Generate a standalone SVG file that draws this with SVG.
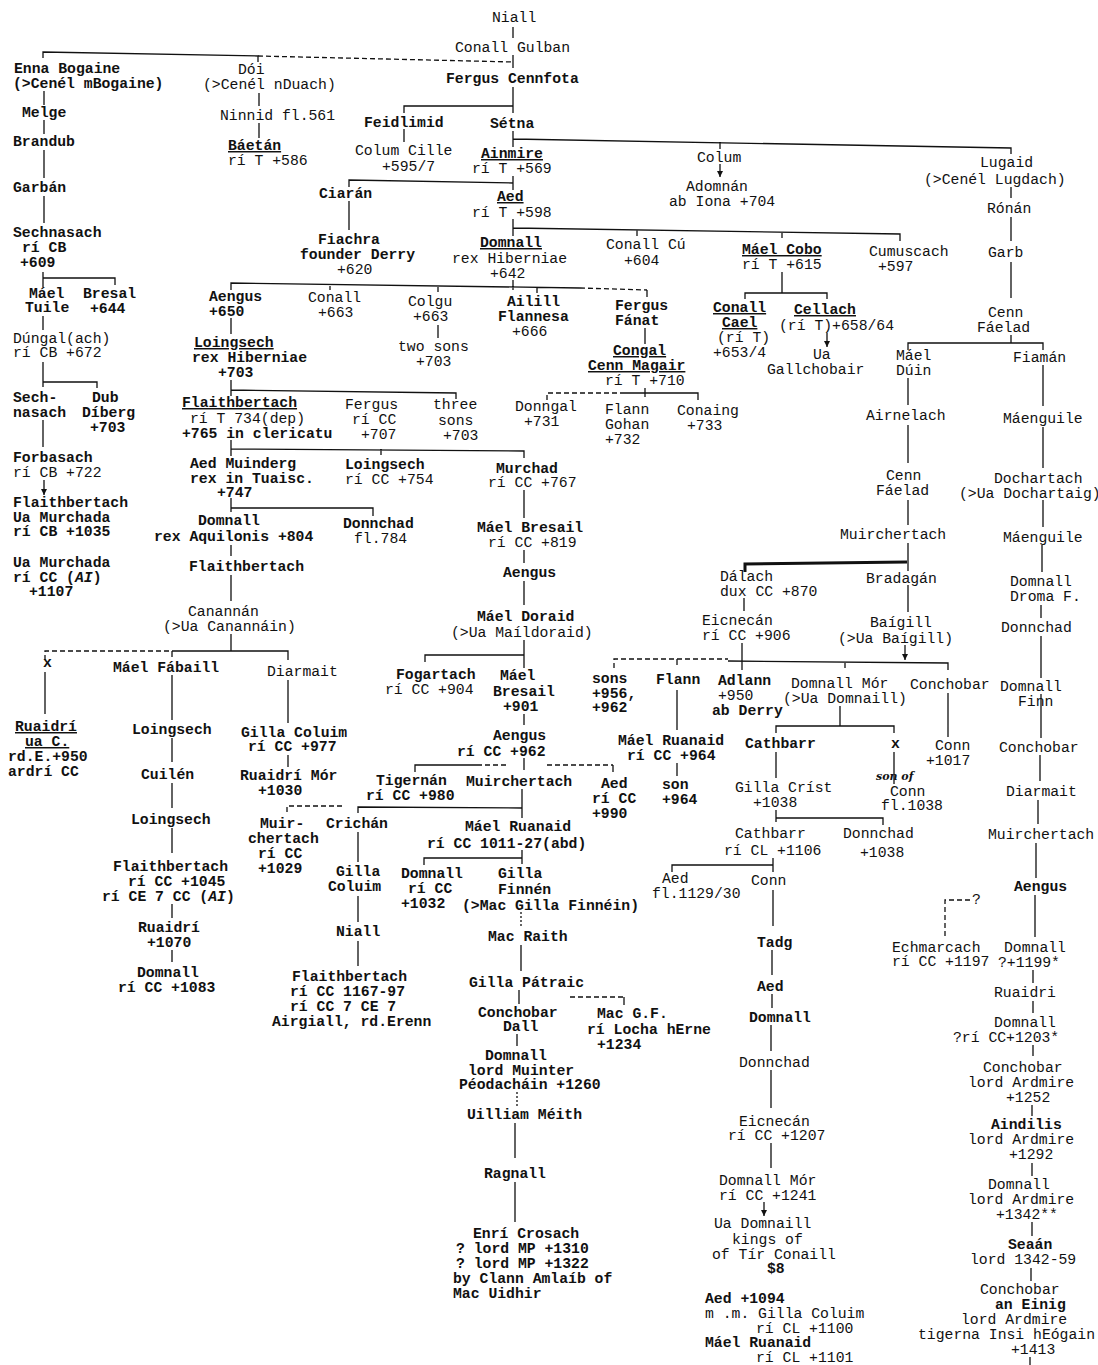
<svg xmlns="http://www.w3.org/2000/svg" width="1098" height="1365" viewBox="0 0 1098 1365">
<style>
text{font-family:"Liberation Mono","DejaVu Sans Mono",monospace;font-size:14.75px;fill:#111}
.b{font-weight:bold}
.u{text-decoration:underline}
.i{font-style:italic}
.hand{font-family:"DejaVu Serif",serif;font-style:italic;font-weight:bold;font-size:11px}
.c{fill:none;stroke:#111;stroke-width:1.3}
.d{stroke-dasharray:5 3}
.dot{stroke-dasharray:2 2}
.thick{stroke-width:3}
.a{marker-end:url(#ah)}
</style>
<defs>
<marker id="ah" viewBox="0 0 6 6" refX="6" refY="3" markerWidth="6" markerHeight="6" markerUnits="userSpaceOnUse" orient="auto">
<path d="M0 0 L6 3 L0 6 z" fill="#111"/>
</marker>
</defs>
<rect width="1098" height="1365" fill="#fff"/>

<!-- lines of descent -->
<g id="connectors">
<path class="c" d="M513 27 V38 M513 55 V68"/>
<path class="c" d="M43 58 V52 L258 56 V62"/>
<path class="c d" d="M258 56 L513 62"/>
<path class="c" d="M44 91 V105 M44 120 V134 M44 150 V178 M44 196 V223"/>
<path class="c" d="M259 93 V106 M259 123 V138"/>
<path class="c" d="M513 87 V113 M513 106 H404 V113 M404 129 V142"/>
<path class="c" d="M513 131 V147 M513 139 L1011 148 V154 M720 142 V149"/>
<path class="c a" d="M720 164 V177"/>
<path class="c" d="M513 176 V190 M349 187 V180 L513 183 M349 201 V230"/>
<path class="c" d="M513 219 V236 M513 228 L900 234 V241 M637 230 V236 M782 232 V238"/>
<path class="c" d="M1011 187 V198 M1011 217 V241 M1011 262 V298 M1011 335 V343 M908 350 V343 L1043 343 V350"/>
<path class="c" d="M513 280 V290 M231 290 V283 L580 288 M330 284 V290 M438 286 V292 M537 287 V293"/>
<path class="c d" d="M580 288 L647 290"/>
<path class="c" d="M647 290 V297"/>
<path class="c" d="M782 272 V293 M745 299 V293 H827 V299"/>
<path class="c a" d="M827 333 V347"/>
<path class="c" d="M645 328 V344 M438 325 V338"/>
<path class="c d" d="M547 400 V393 H620"/>
<path class="c" d="M645 388 V397 M620 393 H698 V400"/>
<path class="c" d="M43 272 V287 M43 278 H115 V285 M43 316 V330 M43 362 V387 M43 382 H97 V388 M43 420 V447"/>
<path class="c a" d="M44 480 V495"/>
<path class="c" d="M231 318 V334 M231 380 V396 M231 390 L456 393 V399"/>
<path class="c" d="M231 440 V456 M231 449 L524 451 V458 M381 449 V455"/>
<path class="c" d="M524 490 V518 M524 550 V563 M524 581 V605 M524 640 V668 M524 655 H425 V662"/>
<path class="c" d="M231 498 V512 M231 508 H373 V516 M231 545 V556 M231 575 V601 M231 634 V651"/>
<path class="c d" d="M45 660 V651 H172"/>
<path class="c" d="M172 651 H288 V660 M172 651 V657"/>
<path class="c" d="M45 672 V714 M172 675 V720 M172 738 V762 M172 783 V808 M172 828 V853 M172 904 V918 M172 950 V962"/>
<path class="c" d="M288 680 V723 M288 755 V767"/>
<path class="c d" d="M287 812 V806 H345"/>
<path class="c" d="M358 813 V807 L522 808 M522 789 V818"/>
<path class="c" d="M358 832 V862 M358 896 V922 M358 941 V966"/>
<path class="c" d="M524 714 V725 M524 758 V770 M415 772 V765 H477 M613 765 V772"/>
<path class="c d" d="M477 765 H508 M547 765 H613"/>
<path class="c" d="M522 850 V864 M522 858 H424 V865"/>
<path class="c dot" d="M521 912 V926"/>
<path class="c" d="M521 945 V971 M519 990 V1004"/>
<path class="c d" d="M570 997 H624"/>
<path class="c" d="M624 997 V1005 M517 1034 V1046"/>
<path class="c dot" d="M517 1092 V1106"/>
<path class="c" d="M515 1123 V1158 M515 1182 V1222"/>
<path class="c thick" d="M745 572 V564 L907 562"/>
<path class="c" d="M908 378 V405 M908 425 V463 M908 500 V525 M908 543 V571 M908 585 V612"/>
<path class="c a" d="M905 645 V660"/>
<path class="c" d="M744 598 V611 M742 643 V670"/>
<path class="c d" d="M614 668 V659 H728"/>
<path class="c" d="M728 661 L948 663 V670 M677 659 V665 M845 662 V668"/>
<path class="c" d="M677 690 V730 M677 763 V776"/>
<path class="c" d="M840 706 V726 M776 733 V726 H894 V733 M948 693 V737"/>
<path class="c" d="M776 752 V778 M776 810 V822 M776 818 H883 V825 M894 752 V784"/>
<path class="c" d="M773 858 V872 M672 872 V865 H773"/>
<path class="c" d="M773 890 V926 M772 950 V975 M772 994 V1008 M771 1025 V1051 M771 1070 V1108 M771 1143 V1168"/>
<path class="c a" d="M764 1202 V1216"/>
<path class="c" d="M1043 365 V406 M1043 427 V468 M1043 500 V527 M1042 545 V572 M1041 605 V618 M1041 636 V678 M1041 694 V738 M1040 755 V781 M1038 800 V824 M1036 843 V878 M1035 895 V937 M1033 970 V983 M1033 1001 V1013 M1033 1045 V1056 M1032 1105 V1116 M1032 1163 V1176 M1032 1222 V1236 M1031 1268 V1281 M1030 1357 V1365"/>
<path class="c d" d="M945 936 V900 H970"/>
</g>

<g id="n-niall"><text x="492" y="22">Niall</text></g>
<g id="n-conall-gulban"><text x="455" y="52">Conall Gulban</text></g>
<g id="n-enna"><text class="b" x="14" y="73">Enna Bogaine</text><text class="b" x="13" y="88">(&gt;Cenél mBogaine)</text></g>
<g id="n-doi"><text x="238" y="74">Dói</text><text x="203" y="89">(&gt;Cenél nDuach)</text></g>
<g id="n-fergus-cennfota"><text class="b" x="446" y="83">Fergus Cennfota</text></g>
<g id="n-melge"><text class="b" x="22" y="117">Melge</text></g>
<g id="n-ninnid"><text x="220" y="120">Ninnid fl.561</text></g>
<g id="n-feidlimid"><text class="b" x="364" y="127">Feidlimid</text></g>
<g id="n-setna"><text class="b" x="490" y="128">Sétna</text></g>
<g id="n-brandub"><text class="b" x="13" y="146">Brandub</text></g>
<g id="n-baetan"><text class="b u" x="228" y="150">Báetán</text><text x="228" y="165">rí T +586</text></g>
<g id="n-colum-cille"><text x="355" y="155">Colum Cille</text><text x="382" y="171">+595/7</text></g>
<g id="n-ainmire"><text class="b u" x="481" y="158">Ainmire</text><text x="472" y="173">rí T +569</text></g>
<g id="n-colum"><text x="697" y="162">Colum</text></g>
<g id="n-lugaid"><text x="980" y="167">Lugaid</text><text x="924" y="184">(&gt;Cenél Lugdach)</text></g>
<g id="n-adomnan"><text x="686" y="191">Adomnán</text><text x="669" y="206">ab Iona +704</text></g>
<g id="n-garban"><text class="b" x="13" y="192">Garbán</text></g>
<g id="n-ciaran"><text class="b" x="319" y="198">Ciarán</text></g>
<g id="n-aed"><text class="b u" x="497" y="201">Aed</text><text x="472" y="217">rí T +598</text></g>
<g id="n-ronan"><text x="987" y="213">Rónán</text></g>
<g id="n-sechnasach"><text class="b" x="13" y="237">Sechnasach</text><text class="b" x="22" y="252">rí CB</text><text class="b" x="20" y="267">+609</text></g>
<g id="n-fiachra"><text class="b" x="318" y="244">Fiachra</text><text class="b" x="300" y="259">founder Derry</text><text x="337" y="274">+620</text></g>
<g id="n-domnall-642"><text class="b u" x="480" y="247">Domnall</text><text x="452" y="263">rex Hiberniae</text><text x="490" y="278">+642</text></g>
<g id="n-conall-cu"><text x="606" y="249">Conall Cú</text><text x="624" y="265">+604</text></g>
<g id="n-mael-cobo"><text class="b u" x="742" y="254">Máel Cobo</text><text x="742" y="269">rí T +615</text></g>
<g id="n-cumuscach"><text x="869" y="256">Cumuscach</text><text x="878" y="271">+597</text></g>
<g id="n-garb"><text x="988" y="257">Garb</text></g>
<g id="n-mael-tuile"><text class="b" x="29" y="298">Máel</text><text class="b" x="25" y="312">Tuile</text></g>
<g id="n-bresal"><text class="b" x="83" y="298">Bresal</text><text class="b" x="90" y="313">+644</text></g>
<g id="n-aengus-650"><text class="b" x="209" y="301">Aengus</text><text class="b" x="209" y="316">+650</text></g>
<g id="n-conall-663"><text x="308" y="302">Conall</text><text x="318" y="317">+663</text></g>
<g id="n-colgu"><text x="408" y="306">Colgu</text><text x="413" y="321">+663</text></g>
<g id="n-ailill"><text class="b" x="507" y="306">Ailill</text><text class="b" x="498" y="321">Flannesa</text><text x="512" y="336">+666</text></g>
<g id="n-fergus-fanat"><text class="b" x="615" y="310">Fergus</text><text class="b" x="615" y="325">Fánat</text></g>
<g id="n-conall-cael"><text class="b u" x="713" y="312">Conall</text><text class="b u" x="722" y="327">Cael</text><text x="717" y="342">(rí T)</text><text x="713" y="357">+653/4</text></g>
<g id="n-cellach"><text class="b u" x="794" y="314">Cellach</text><text x="779" y="330">(rí T)+658/64</text></g>
<g id="n-cenn-faelad-1"><text x="988" y="317">Cenn</text><text x="977" y="332">Fáelad</text></g>
<g id="n-dungal"><text x="13" y="343">Dúngal(ach)</text><text x="13" y="357">rí CB +672</text></g>
<g id="n-loingsech-703"><text class="b u" x="194" y="347">Loingsech</text><text class="b" x="192" y="362">rex Hiberniae</text><text class="b" x="218" y="377">+703</text></g>
<g id="n-two-sons"><text x="398" y="351">two sons</text><text x="416" y="366">+703</text></g>
<g id="n-congal"><text class="b u" x="613" y="355">Congal</text><text class="b u" x="588" y="370">Cenn Magair</text><text x="605" y="385">rí T +710</text></g>
<g id="n-ua-gallchobair"><text x="813" y="359">Ua</text><text x="767" y="374">Gallchobair</text></g>
<g id="n-mael-duin"><text x="896" y="360">Máel</text><text x="896" y="375">Dúin</text></g>
<g id="n-fiaman"><text x="1013" y="362">Fiamán</text></g>
<g id="n-sech-nasach"><text class="b" x="13" y="402">Sech-</text><text class="b" x="13" y="417">nasach</text></g>
<g id="n-dub-diberg"><text class="b" x="92" y="402">Dub</text><text class="b" x="82" y="417">Díberg</text><text class="b" x="90" y="432">+703</text></g>
<g id="n-flaithbertach-765"><text class="b u" x="182" y="407">Flaithbertach</text><text x="190" y="423">rí T 734(dep)</text><text class="b" x="182" y="438">+765 in clericatu</text></g>
<g id="n-fergus-707"><text x="345" y="409">Fergus</text><text x="352" y="424">rí CC</text><text x="361" y="439">+707</text></g>
<g id="n-three-sons"><text x="433" y="409">three</text><text x="438" y="425">sons</text><text x="443" y="440">+703</text></g>
<g id="n-donngal"><text x="515" y="411">Donngal</text><text x="524" y="426">+731</text></g>
<g id="n-flann-gohan"><text x="605" y="414">Flann</text><text x="605" y="429">Gohan</text><text x="605" y="444">+732</text></g>
<g id="n-conaing"><text x="677" y="415">Conaing</text><text x="687" y="430">+733</text></g>
<g id="n-airnelach"><text x="866" y="420">Airnelach</text></g>
<g id="n-maenguile-1"><text x="1003" y="423">Máenguile</text></g>
<g id="n-forbasach"><text class="b" x="13" y="462">Forbasach</text><text x="13" y="477">rí CB +722</text></g>
<g id="n-aed-muinderg"><text class="b" x="190" y="468">Aed Muinderg</text><text class="b" x="190" y="483">rex in Tuaisc.</text><text class="b" x="217" y="497">+747</text></g>
<g id="n-loingsech-754"><text class="b" x="345" y="469">Loingsech</text><text x="345" y="484">rí CC +754</text></g>
<g id="n-murchad"><text class="b" x="496" y="473">Murchad</text><text x="488" y="487">rí CC +767</text></g>
<g id="n-cenn-faelad-2"><text x="886" y="480">Cenn</text><text x="876" y="495">Fáelad</text></g>
<g id="n-dochartach"><text x="994" y="483">Dochartach</text><text x="959" y="498">(&gt;Ua Dochartaig)</text></g>
<g id="n-flaithbertach-1035"><text class="b" x="13" y="507">Flaithbertach</text><text class="b" x="13" y="522">Ua Murchada</text><text class="b" x="13" y="536">rí CB +1035</text></g>
<g id="n-domnall-804"><text class="b" x="198" y="525">Domnall</text><text class="b" x="154" y="541">rex Aquilonis +804</text></g>
<g id="n-donnchad-784"><text class="b" x="343" y="528">Donnchad</text><text x="354" y="543">fl.784</text></g>
<g id="n-mael-bresail-819"><text class="b" x="477" y="532">Máel Bresail</text><text x="488" y="547">rí CC +819</text></g>
<g id="n-muirchertach-1"><text x="840" y="539">Muirchertach</text></g>
<g id="n-maenguile-2"><text x="1003" y="542">Máenguile</text></g>
<g id="n-ua-murchada"><text class="b" x="13" y="567">Ua Murchada</text><text class="b" x="13" y="582">rí CC (<tspan class="i">AI</tspan>)</text><text class="b" x="29" y="596">+1107</text></g>
<g id="n-flaithbertach-2"><text class="b" x="189" y="571">Flaithbertach</text></g>
<g id="n-aengus-3"><text class="b" x="503" y="577">Aengus</text></g>
<g id="n-dalach"><text x="720" y="581">Dálach</text><text x="720" y="596">dux CC +870</text></g>
<g id="n-bradagan"><text x="866" y="583">Bradagán</text></g>
<g id="n-domnall-droma"><text x="1010" y="586">Domnall</text><text x="1010" y="601">Droma F.</text></g>
<g id="n-canannan"><text x="188" y="616">Canannán</text><text x="163" y="631">(&gt;Ua Canannáin)</text></g>
<g id="n-mael-doraid"><text class="b" x="477" y="621">Máel Doraid</text><text x="451" y="637">(&gt;Ua Maíldoraid)</text></g>
<g id="n-eicnecan-906"><text x="702" y="625">Eicnecán</text><text x="702" y="640">rí CC +906</text></g>
<g id="n-baigill"><text x="870" y="627">Baígill</text><text x="838" y="643">(&gt;Ua Baígill)</text></g>
<g id="n-donnchad-r"><text x="1001" y="632">Donnchad</text></g>
<g id="n-x-1"><text class="b" x="43" y="667">x</text></g>
<g id="n-mael-fabaill"><text class="b" x="113" y="672">Máel Fábaill</text></g>
<g id="n-diarmait-1"><text x="267" y="676">Diarmait</text></g>
<g id="n-fogartach"><text class="b" x="396" y="679">Fogartach</text><text x="385" y="694">rí CC +904</text></g>
<g id="n-mael-bresail-901"><text class="b" x="500" y="680">Máel</text><text class="b" x="493" y="696">Bresail</text><text class="b" x="503" y="711">+901</text></g>
<g id="n-sons"><text class="b" x="592" y="683">sons</text><text class="b" x="592" y="698">+956,</text><text class="b" x="592" y="712">+962</text></g>
<g id="n-flann"><text class="b" x="656" y="684">Flann</text></g>
<g id="n-adlann"><text class="b" x="718" y="685">Adlann</text><text x="718" y="700">+950</text><text class="b" x="712" y="715">ab Derry</text></g>
<g id="n-domnall-mor-1"><text x="791" y="688">Domnall Mór</text><text x="783" y="703">(&gt;Ua Domnaill)</text></g>
<g id="n-conchobar-1"><text x="910" y="689">Conchobar</text></g>
<g id="n-domnall-finn"><text x="1000" y="691">Domnall</text><text x="1018" y="706">Finn</text></g>
<g id="n-ruaidri-950"><text class="b u" x="15" y="731">Ruaidrí</text><text class="b u" x="25" y="746">ua C.</text><text class="b" x="8" y="761">rd.E.+950</text><text class="b" x="8" y="776">ardrí CC</text></g>
<g id="n-loingsech-a"><text class="b" x="132" y="734">Loingsech</text></g>
<g id="n-gilla-coluim-977"><text class="b" x="241" y="737">Gilla Coluim</text><text class="b" x="248" y="751">rí CC +977</text></g>
<g id="n-aengus-962"><text class="b" x="493" y="740">Aengus</text><text class="b" x="457" y="756">rí CC +962</text></g>
<g id="n-mael-ruanaid-964"><text class="b" x="618" y="745">Máel Ruanaid</text><text class="b" x="627" y="760">rí CC +964</text></g>
<g id="n-cathbarr-1"><text class="b" x="745" y="748">Cathbarr</text></g>
<g id="n-x-2"><text class="b" x="891" y="748">x</text></g>
<g id="n-conn-1017"><text x="935" y="750">Conn</text><text x="926" y="765">+1017</text></g>
<g id="n-conchobar-r1"><text x="999" y="752">Conchobar</text></g>
<g id="n-cuilen"><text class="b" x="141" y="779">Cuilén</text></g>
<g id="n-ruaidri-mor"><text class="b" x="240" y="780">Ruaidrí Mór</text><text class="b" x="258" y="795">+1030</text></g>
<g id="n-tigernan"><text class="b" x="376" y="785">Tigernán</text><text class="b" x="366" y="800">rí CC +980</text></g>
<g id="n-muirchertach-2"><text class="b" x="466" y="786">Muirchertach</text></g>
<g id="n-aed-990"><text class="b" x="601" y="788">Aed</text><text class="b" x="592" y="803">rí CC</text><text class="b" x="592" y="818">+990</text></g>
<g id="n-son-964"><text class="b" x="662" y="789">son</text><text class="b" x="662" y="804">+964</text></g>
<g id="n-gilla-crist"><text x="735" y="792">Gilla Críst</text><text x="753" y="807">+1038</text></g>
<g id="n-conn-1038"><text class="hand" x="876" y="780">son of</text><text x="890" y="796">Conn</text><text x="881" y="810">fl.1038</text></g>
<g id="n-diarmait-r"><text x="1006" y="796">Diarmait</text></g>
<g id="n-loingsech-b"><text class="b" x="131" y="824">Loingsech</text></g>
<g id="n-muir-chertach"><text class="b" x="260" y="828">Muir-</text><text class="b" x="248" y="843">chertach</text><text class="b" x="258" y="858">rí CC</text><text class="b" x="258" y="873">+1029</text></g>
<g id="n-crichan"><text class="b" x="326" y="828">Crichán</text></g>
<g id="n-mael-ruanaid-1011"><text class="b" x="465" y="831">Máel Ruanaid</text><text class="b" x="427" y="848">rí CC 1011-27(abd)</text></g>
<g id="n-cathbarr-1106"><text x="735" y="838">Cathbarr</text><text x="724" y="855">rí CL +1106</text></g>
<g id="n-donnchad-1038"><text x="843" y="838">Donnchad</text><text x="860" y="857">+1038</text></g>
<g id="n-muirchertach-r"><text x="988" y="839">Muirchertach</text></g>
<g id="n-flaithbertach-1045"><text class="b" x="113" y="871">Flaithbertach</text><text class="b" x="128" y="886">rí CC +1045</text><text class="b" x="102" y="901">rí CE 7 CC (<tspan class="i">AI</tspan>)</text></g>
<g id="n-gilla-coluim-2"><text class="b" x="336" y="876">Gilla</text><text class="b" x="328" y="891">Coluim</text></g>
<g id="n-domnall-1032"><text class="b" x="401" y="878">Domnall</text><text class="b" x="408" y="893">rí CC</text><text class="b" x="401" y="908">+1032</text></g>
<g id="n-gilla-finnen"><text class="b" x="498" y="878">Gilla</text><text class="b" x="498" y="894">Finnén</text><text class="b" x="462" y="910">(&gt;Mac Gilla Finnéin)</text></g>
<g id="n-aed-1129"><text x="662" y="883">Aed</text><text x="652" y="898">fl.1129/30</text></g>
<g id="n-conn-2"><text x="751" y="885">Conn</text></g>
<g id="n-aengus-r"><text class="b" x="1014" y="891">Aengus</text></g>
<g id="n-ruaidri-1070"><text class="b" x="138" y="932">Ruaidrí</text><text class="b" x="147" y="947">+1070</text></g>
<g id="n-niall-2"><text class="b" x="336" y="936">Niall</text></g>
<g id="n-mac-raith"><text class="b" x="488" y="941">Mac Raith</text></g>
<g id="n-tadg"><text class="b" x="757" y="947">Tadg</text></g>
<g id="n-echmarcach"><text x="972" y="904">?</text><text x="892" y="952">Echmarcach</text><text x="892" y="966">rí CC +1197</text></g>
<g id="n-domnall-1199"><text x="1004" y="952">Domnall</text><text x="998" y="967">?+1199*</text></g>
<g id="n-domnall-1083"><text class="b" x="137" y="977">Domnall</text><text class="b" x="118" y="992">rí CC +1083</text></g>
<g id="n-flaithbertach-1167"><text class="b" x="292" y="981">Flaithbertach</text><text class="b" x="290" y="996">rí CC 1167-97</text><text class="b" x="290" y="1011">rí CC 7 CE 7</text><text class="b" x="272" y="1026">Airgiall, rd.Erenn</text></g>
<g id="n-gilla-patraic"><text class="b" x="469" y="987">Gilla Pátraic</text></g>
<g id="n-aed-986"><text class="b" x="757" y="991">Aed</text></g>
<g id="n-ruaidri-r"><text x="994" y="997">Ruaidri</text></g>
<g id="n-conchobar-dall"><text class="b" x="478" y="1017">Conchobar</text><text class="b" x="503" y="1031">Dall</text></g>
<g id="n-mac-gf"><text class="b" x="597" y="1018">Mac G.F.</text><text class="b" x="587" y="1034">rí Locha hErne</text><text class="b" x="597" y="1049">+1234</text></g>
<g id="n-domnall-mid"><text class="b" x="749" y="1022">Domnall</text></g>
<g id="n-domnall-1203"><text x="994" y="1027">Domnall</text><text x="953" y="1042">?rí CC+1203*</text></g>
<g id="n-domnall-1260"><text class="b" x="485" y="1060">Domnall</text><text class="b" x="468" y="1075">lord Muinter</text><text class="b" x="459" y="1089">Péodacháin +1260</text></g>
<g id="n-donnchad-mid"><text x="739" y="1067">Donnchad</text></g>
<g id="n-conchobar-1252"><text x="983" y="1072">Conchobar</text><text x="968" y="1087">lord Ardmire</text><text x="1006" y="1102">+1252</text></g>
<g id="n-uilliam"><text class="b" x="467" y="1119">Uilliam Méith</text></g>
<g id="n-eicnecan-1207"><text x="739" y="1126">Eicnecán</text><text x="728" y="1140">rí CC +1207</text></g>
<g id="n-aindilis"><text class="b" x="991" y="1129">Aindilis</text><text x="968" y="1144">lord Ardmire</text><text x="1009" y="1159">+1292</text></g>
<g id="n-ragnall"><text class="b" x="484" y="1178">Ragnall</text></g>
<g id="n-domnall-mor-1241"><text x="719" y="1185">Domnall Mór</text><text x="719" y="1200">rí CC +1241</text></g>
<g id="n-domnall-1342"><text x="988" y="1189">Domnall</text><text x="968" y="1204">lord Ardmire</text><text x="996" y="1219">+1342**</text></g>
<g id="n-ua-domnaill"><text x="714" y="1228">Ua Domnaill</text><text x="732" y="1244">kings of</text><text x="712" y="1259">of Tír Conaill</text><text class="b" x="767" y="1273">$8</text></g>
<g id="n-enri"><text class="b" x="473" y="1238">Enrí Crosach</text><text class="b" x="456" y="1253">? lord MP +1310</text><text class="b" x="456" y="1268">? lord MP +1322</text><text class="b" x="453" y="1283">by Clann Amlaíb of</text><text class="b" x="453" y="1298">Mac Uidhir</text></g>
<g id="n-seaan"><text class="b" x="1008" y="1249">Seaán</text><text x="970" y="1264">lord 1342-59</text></g>
<g id="n-conchobar-1413"><text x="980" y="1294">Conchobar</text><text class="b" x="995" y="1309">an Einig</text><text x="961" y="1324">lord Ardmire</text><text x="918" y="1339">tigerna Insi hEógain</text><text x="1011" y="1354">+1413</text></g>
<g id="n-aed-1094"><text class="b" x="705" y="1303">Aed +1094</text><text x="705" y="1318">m .m. Gilla Coluim</text><text x="756" y="1333">rí CL +1100</text><text class="b" x="705" y="1347">Máel Ruanaid</text><text x="756" y="1362">rí CL +1101</text></g>
</svg>
